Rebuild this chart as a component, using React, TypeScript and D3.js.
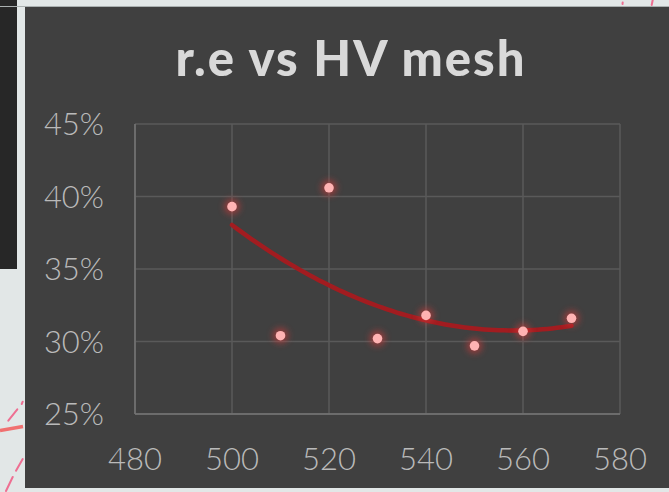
import React from "react";
import * as d3 from "d3";

// HV mesh setting vs r.e measurements
const meshValues: number[] = [500, 510, 520, 530, 540, 550, 560, 570];
const reValues: number[] = [0.393, 0.304, 0.406, 0.302, 0.318, 0.297, 0.307, 0.316];

const xTicks: number[] = [480, 500, 520, 540, 560, 580];
const yTicks: number[] = [0.25, 0.3, 0.35, 0.4, 0.45];
const chartTitle = "r.e vs HV mesh";

const W = 669;
const H = 492;

// least-squares quadratic fit (order-2 polynomial trendline)
function quadFit(xs: number[], ys: number[]) {
  const n = xs.length;
  const mx = d3.mean(xs) as number;
  const t = xs.map((x) => (x - mx) / 10);
  let s2 = 0, s3 = 0, s4 = 0, sy = 0, sty = 0, st2y = 0, s1 = 0;
  t.forEach((v, i) => {
    s1 += v; s2 += v * v; s3 += v * v * v; s4 += v * v * v * v;
    sy += ys[i]; sty += v * ys[i]; st2y += v * v * ys[i];
  });
  const A = [
    [n, s1, s2],
    [s1, s2, s3],
    [s2, s3, s4],
  ];
  const B = [sy, sty, st2y];
  const det = (m: number[][]) =>
    m[0][0] * (m[1][1] * m[2][2] - m[1][2] * m[2][1]) -
    m[0][1] * (m[1][0] * m[2][2] - m[1][2] * m[2][0]) +
    m[0][2] * (m[1][0] * m[2][1] - m[1][1] * m[2][0]);
  const D = det(A);
  const coef = [0, 1, 2].map((k) => {
    const M = A.map((row, r) => row.map((v, c) => (c === k ? B[r] : v)));
    return det(M) / D;
  });
  return (x: number) => {
    const u = (x - mx) / 10;
    return coef[0] + coef[1] * u + coef[2] * u * u;
  };
}

export default function App() {
  const x = d3.scaleLinear().domain([480, 580]).range([135, 620]);
  const y = d3.scaleLinear().domain([0.25, 0.45]).range([414, 124]);
  const fit = quadFit(meshValues, reValues);
  const xs = d3.range(500, 570.01, 1);
  const trend = d3
    .line<number>()
    .x((d) => x(d))
    .y((d) => y(fit(d)))(xs);

  const fmt = d3.format(".0%");
  const font = "Lato, 'Open Sans', sans-serif";

  return (
    <svg
      width={W}
      height={H}
      style={{ position: "absolute", left: 0, top: 0, display: "block" }}
    >
      <defs>
        <filter id="glow" x="-100%" y="-100%" width="300%" height="300%">
          <feGaussianBlur stdDeviation="3.2" />
        </filter>
      </defs>
      {/* surrounding page */}
      <rect x={0} y={0} width={W} height={H} fill="#e2e7e7" />
      <rect x={0} y={0} width={17} height={269} fill="#272727" />
      <line x1={0} y1={6.5} x2={W} y2={6.5} stroke="#aab0b0" strokeWidth={1} />
      {/* decorative pink strokes behind the panel */}
      <g stroke="#ee6f92" strokeWidth={2} strokeLinecap="round" fill="none">
        <line x1={22.7} y1={401.7} x2={21.7} y2={404} />
        <line x1={17.3} y1={409.3} x2={8.3} y2={420.7} />
        <line x1={22.7} y1={459} x2={16} y2={470.7} />
        <line x1={12.7} y1={477} x2={6} y2={491} />
        <line x1={622.7} y1={2.5} x2={622.5} y2={4} />
        <line x1={652.7} y1={0} x2={651.7} y2={5} />
      </g>
      <line x1={0} y1={430.5} x2={23} y2={426.5} stroke="#f07070" strokeWidth={3.5} />

      {/* chart panel */}
      <rect x={25} y={7} width={W - 25} height={481} fill="#404040" />

      <text
        x={351}
        y={76}
        textAnchor="middle"
        fill="#d9d9d9"
        fontFamily={font}
        fontWeight={900}
        fontSize={49}
        letterSpacing={2}
      >
        {chartTitle}
      </text>

      {/* gridlines */}
      <g stroke="#5a5a5a" strokeWidth={1.5}>
        {yTicks.map((t) => (
          <line key={"gy" + t} x1={x(480)} x2={x(580)} y1={y(t)} y2={y(t)} />
        ))}
        {xTicks.map((t) => (
          <line key={"gx" + t} x1={x(t)} x2={x(t)} y1={y(0.45)} y2={y(0.25)} />
        ))}
      </g>
      {/* axis lines */}
      <g stroke="#747474" strokeWidth={1.5}>
        <line x1={x(480)} x2={x(480)} y1={y(0.45)} y2={y(0.25)} />
        <line x1={x(480)} x2={x(580)} y1={y(0.25)} y2={y(0.25)} />
      </g>

      {/* tick labels */}
      <g fill="#bababa" fontFamily={font} fontWeight={300} fontSize={31}>
        {yTicks.map((t) => (
          <text key={"ly" + t} x={104} y={y(t)} dy="0.36em" textAnchor="end">
            {fmt(t)}
          </text>
        ))}
        {xTicks.map((t) => (
          <text key={"lx" + t} x={x(t)} y={470} textAnchor="middle">
            {t}
          </text>
        ))}
      </g>

      {/* trendline */}
      <path d={trend ?? ""} fill="none" stroke="#a21c20" strokeWidth={4.5} strokeLinecap="round" />

      {/* markers with glow */}
      <g>
        {meshValues.map((m, i) => (
          <circle
            key={"g" + m}
            cx={x(m)}
            cy={y(reValues[i])}
            r={8}
            fill="#d63a3a"
            opacity={0.55}
            filter="url(#glow)"
          />
        ))}
        {meshValues.map((m, i) => (
          <circle key={"p" + m} cx={x(m)} cy={y(reValues[i])} r={4.8} fill="#ffb3b3" />
        ))}
      </g>
    </svg>
  );
}
